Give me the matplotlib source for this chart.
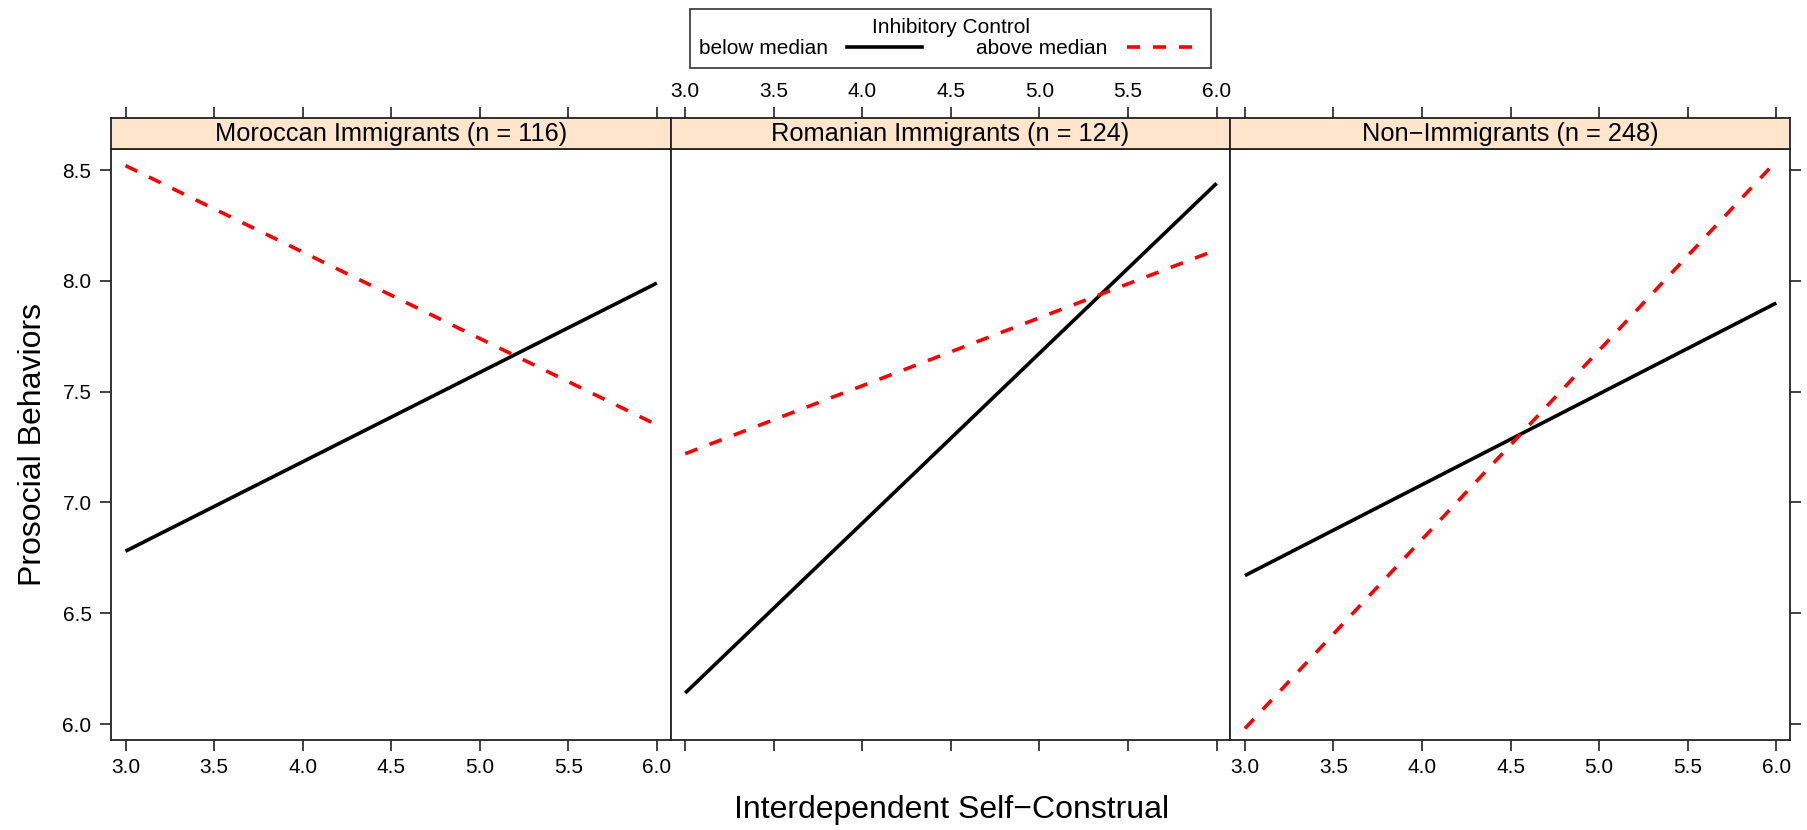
import numpy as np
import matplotlib.pyplot as plt
from matplotlib.lines import Line2D

plt.rcParams['font.family'] = ['Liberation Sans', 'DejaVu Sans']

# data
groups = ['Moroccan Immigrants (n = 116)', 'Romanian Immigrants (n = 124)',
          'Non\u2212Immigrants (n = 248)']
x_vals = [3.0, 6.0]
below_median = [[6.78, 7.99], [6.14, 8.44], [6.67, 7.90]]
above_median = [[8.52, 7.35], [7.22, 8.14], [5.98, 8.54]]
x_ticks = [3.0, 3.5, 4.0, 4.5, 5.0, 5.5, 6.0]
y_ticks = [6.0, 6.5, 7.0, 7.5, 8.0, 8.5]
series_labels = ['below median', 'above median']

W, H = 1807, 830
fig = plt.figure(figsize=(W / 100, H / 100), dpi=100)

left = 111 / W
bottom = 90 / H
pw = 559.7 / W
ph = 591 / H
sh = 31 / H
xlim = (2.918, 6.078)
ylim = (5.928, 8.595)
tick_fs = 15
edge = '#222222'
lw = 2.6

for i, name in enumerate(groups):
    ax = fig.add_axes([left + i * pw, bottom, pw, ph])
    st = fig.add_axes([left + i * pw, bottom + ph, pw, sh])

    ax.plot(x_vals, below_median[i], color='black', lw=lw, solid_capstyle='butt')
    ax.plot(x_vals, above_median[i], color='red', lw=lw, dashes=(3.6, 3.6))

    ax.set_xlim(*xlim)
    ax.set_ylim(*ylim)
    st.set_xlim(*xlim)
    st.set_ylim(0, 1)
    st.set_facecolor('#FFE5CC')
    st.text(0.5, 0.48, name, transform=st.transAxes, ha='center', va='center',
            fontsize=18.3)

    for a in (ax, st):
        for s in a.spines.values():
            s.set_linewidth(1.3)
            s.set_color(edge)

    ax.set_xticks(x_ticks)
    st.set_xticks(x_ticks)
    st.set_yticks([])
    st.xaxis.set_ticks_position('top')
    st.tick_params(axis='x', direction='out', length=8, width=1.2, color=edge,
                   labelsize=tick_fs, pad=4, labeltop=(i == 1))
    ax.tick_params(axis='x', direction='out', length=8, width=1.2, color=edge,
                   labelsize=tick_fs, pad=5, labelbottom=(i != 1))

    if i == 0:
        ax.set_yticks(y_ticks)
        ax.set_yticklabels([f'{v:.1f}' for v in y_ticks])
        ax.tick_params(axis='y', direction='out', length=8, width=1.2, color=edge,
                       labelsize=tick_fs, pad=6)
    elif i == 2:
        ax.set_yticks(y_ticks)
        ax.yaxis.set_ticks_position('right')
        ax.tick_params(axis='y', direction='out', length=8, width=1.2, color=edge,
                       labelright=False)
    else:
        ax.set_yticks([])

fig.text(952 / W, 1 - 810 / H, 'Interdependent Self\u2212Construal',
         ha='center', va='center', fontsize=23)
fig.text(33 / W, 1 - 445 / H, 'Prosocial Behaviors', rotation=90,
         ha='center', va='center', fontsize=23)

handles = [Line2D([], [], color='black', lw=lw),
           Line2D([], [], color='red', lw=lw, dashes=(3.6, 3.6))]
leg = fig.legend(handles, series_labels, ncol=2, markerfirst=False,
                 title='Inhibitory Control', loc='upper center',
                 bbox_to_anchor=(950.5 / W, 1 - 9 / H), borderaxespad=0,
                 fontsize=15, title_fontsize=15, frameon=True, fancybox=False,
                 edgecolor='black', handlelength=3.6, handletextpad=0.9,
                 columnspacing=2.6, borderpad=0.45, labelspacing=0.1)
leg.get_frame().set_linewidth(1.2)

fig.savefig('out.png', dpi=100)
